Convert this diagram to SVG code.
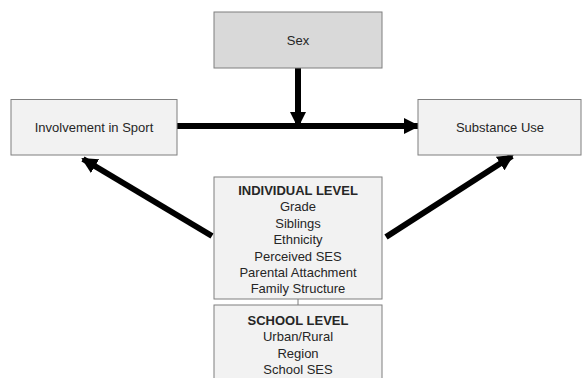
<svg xmlns="http://www.w3.org/2000/svg" width="582" height="378" viewBox="0 0 582 378">
<style>
.box{fill:#f2f2f2;stroke:#7f7f7f;stroke-width:1}
.sex{fill:#d9d9d9;stroke:#7f7f7f;stroke-width:1}
text{font-family:"Liberation Sans",Arial,sans-serif;font-size:13px;fill:#262626;text-anchor:middle}
.b{font-weight:bold}
.arr{stroke:#000;stroke-width:6;fill:none;marker-end:url(#ah)}
</style>
<defs>
<marker id="ah" markerUnits="userSpaceOnUse" markerWidth="16" markerHeight="16" refX="14" refY="8" orient="auto">
<path d="M0,0 L16,8 L0,16 Z" fill="#000"/>
</marker>
</defs>
<rect width="582" height="378" fill="#fff"/>
<g id="connectors">
<line class="arr" x1="298" y1="68" x2="298" y2="126"/>
<line class="arr" x1="177" y1="126" x2="418" y2="126"/>
<line class="arr" x1="212" y1="236" x2="83" y2="159"/>
<line class="arr" x1="386" y1="237" x2="512" y2="156"/>
<line x1="298" y1="299" x2="298" y2="305" stroke="#7f7f7f" stroke-width="1"/>
</g>
<g id="sex">
<rect class="sex" x="214" y="12" width="168" height="56"/>
<text x="298" y="45">Sex</text>
</g>
<g id="involvement">
<rect class="box" x="11" y="99.5" width="166" height="55.5"/>
<text x="94" y="131.5">Involvement in Sport</text>
</g>
<g id="substance">
<rect class="box" x="418" y="99.5" width="163" height="55.5"/>
<text x="500" y="131.5">Substance Use</text>
</g>
<g id="individual">
<rect class="box" x="214" y="177" width="168" height="122"/>
<text class="b" x="298" y="194.5">INDIVIDUAL LEVEL</text>
<text x="298" y="211">Grade</text>
<text x="298" y="227.5">Siblings</text>
<text x="298" y="244">Ethnicity</text>
<text x="298" y="260.5">Perceived SES</text>
<text x="298" y="277">Parental Attachment</text>
<text x="298" y="293">Family Structure</text>
</g>
<g id="school">
<rect class="box" x="214" y="305" width="168" height="80"/>
<text class="b" x="298" y="324.5">SCHOOL LEVEL</text>
<text x="298" y="341">Urban/Rural</text>
<text x="298" y="357.5">Region</text>
<text x="298" y="374">School SES</text>
</g>
</svg>
